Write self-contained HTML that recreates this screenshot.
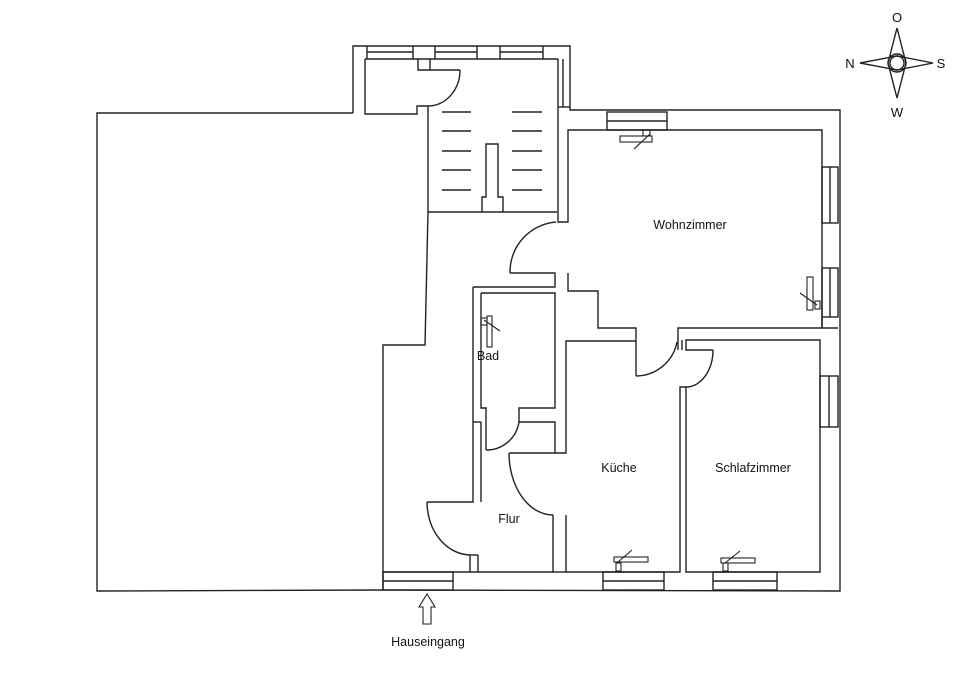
<!DOCTYPE html>
<html><head><meta charset="utf-8"><style>
html,body{margin:0;padding:0;background:#fff;}
svg{display:block}
text{font-family:"Liberation Sans",Arial,sans-serif;fill:#111;}
</style></head><body>
<svg width="960" height="679" viewBox="0 0 960 679" xmlns="http://www.w3.org/2000/svg">
<g fill="none" stroke="#222" stroke-width="1.4">
<!-- big left area -->
<polyline points="353,113 97,113 97,591 383,590"/>
<!-- top stair block outer -->
<polyline points="353,113 353,46 570,46 570,110 840,110 840,591 383,590 383,345 425,345 428,212 428,106"/>
<!-- stair room -->
<polyline points="365,59 558,59"/>
<polyline points="367,52 413,52"/><polyline points="435,52 477,52"/><polyline points="500,52 543,52"/>
<line x1="413" y1="46" x2="413" y2="59"/><line x1="435" y1="46" x2="435" y2="59"/>
<line x1="367" y1="46" x2="367" y2="59"/><line x1="477" y1="46" x2="477" y2="59"/>
<line x1="500" y1="46" x2="500" y2="59"/><line x1="543" y1="46" x2="543" y2="59"/>
<polyline points="365,59 365,114 417,114 417,106 428,106"/>
<polyline points="418,59 418,70 460,70"/>
<line x1="430" y1="59" x2="430" y2="70"/>
<path d="M460,70 A32,36 0 0 1 428,106"/>
<polyline points="558,59 558,222 568,222 568,130 607,130"/>
<line x1="563" y1="59" x2="563" y2="107"/><line x1="558" y1="107" x2="570" y2="107"/>
<line x1="428" y1="212" x2="557" y2="212"/>
<!-- treads -->
<g>
<line x1="442" y1="112" x2="471" y2="112"/><line x1="442" y1="131" x2="471" y2="131"/><line x1="442" y1="151" x2="471" y2="151"/><line x1="442" y1="170" x2="471" y2="170"/><line x1="442" y1="190" x2="471" y2="190"/>
<line x1="512" y1="112" x2="542" y2="112"/><line x1="512" y1="131" x2="542" y2="131"/><line x1="512" y1="151" x2="542" y2="151"/><line x1="512" y1="170" x2="542" y2="170"/><line x1="512" y1="190" x2="542" y2="190"/>
</g>
<polyline points="482,212 482,197 486,197 486,144 498,144 498,197 503,197 503,212"/>
<!-- wohnzimmer -->
<polyline points="607,130 822,130 822,327"/>
<rect x="607" y="112" width="60" height="18"/><line x1="607" y1="121" x2="667" y2="121"/>
<rect x="822" y="167" width="16" height="56"/><line x1="830" y1="167" x2="830" y2="223"/>
<rect x="822" y="268" width="16" height="49"/><line x1="830" y1="268" x2="830" y2="317"/>
<line x1="822" y1="317" x2="822" y2="328"/>
<path d="M556,222 A50,50 0 0 0 510,273"/>
<polyline points="510,273 555,273 555,287 473,287"/>
<polyline points="568,273 568,291 598,291 598,328 636,328 636,376"/>
<path d="M636,376 A42,42 0 0 0 677,342"/>
<polyline points="678,350 678,328 838,328"/>
<line x1="682" y1="340" x2="682" y2="350"/>
<!-- bad -->
<polyline points="473,287 473,502 427,502"/>
<polyline points="481,422 481,502"/>
<line x1="473" y1="422" x2="481" y2="422"/>
<polyline points="481,293 555,293 555,408 519,408 519,422 555,422 555,453"/>
<polyline points="481,293 481,408 486,408 486,450"/>
<path d="M486,450 A33,33 0 0 0 519,422"/>
<!-- flur -->
<path d="M427,502 A44,53 0 0 0 470,555"/>
<polyline points="470,555 470,572 553,572 553,515"/>
<line x1="478" y1="555" x2="478" y2="572"/><line x1="470" y1="555" x2="478" y2="555"/>
<path d="M553,515 A44,62 0 0 1 509,453"/>
<polyline points="509,453 566,453 566,341 636,341"/>
<!-- kitchen -->
<polyline points="566,515 566,572 680,572 680,387 686,387"/>
<path d="M686,387 A27,37 0 0 0 713,350"/>
<polyline points="713,350 686,350 686,340 820,340 820,572 686,572 686,387"/>
<rect x="820" y="376" width="18" height="51"/><line x1="829" y1="376" x2="829" y2="427"/>
<!-- bottom windows -->
<rect x="383" y="572" width="70" height="18"/><line x1="383" y1="581" x2="453" y2="581"/>
<rect x="603" y="572" width="61" height="18"/><line x1="603" y1="581" x2="664" y2="581"/>
<rect x="713" y="572" width="64" height="18"/><line x1="713" y1="581" x2="777" y2="581"/>
<line x1="383" y1="572" x2="470" y2="572"/><line x1="553" y1="572" x2="566" y2="572"/>
<!-- radiators -->
<g stroke-width="1.1">
<rect x="620" y="136" width="32" height="6"/><rect x="643" y="130" width="7" height="6"/><line x1="634" y1="149" x2="650" y2="134"/>
<rect x="807" y="277" width="6" height="33"/><rect x="815" y="301" width="5" height="8"/><line x1="800" y1="293" x2="817" y2="305"/>
<rect x="487" y="316" width="5" height="31"/><rect x="481" y="318" width="6" height="7"/><line x1="484" y1="320" x2="500" y2="331"/>
<rect x="614" y="557" width="34" height="5"/><rect x="616" y="563" width="5" height="8"/><line x1="632" y1="550" x2="618" y2="562"/>
<rect x="721" y="558" width="34" height="5"/><rect x="723" y="563" width="5" height="8"/><line x1="740" y1="551" x2="725" y2="563"/>
</g>
<!-- arrow -->
<polygon points="427,594 435,607 431,607 431,624 423,624 423,607 419,607" stroke-width="1.1"/>
<!-- compass -->
<polygon points="897,28 906,63 897,98 888,63"/>
<polygon points="860,63 897,56 933,63 897,70"/>
<circle cx="897" cy="63" r="9"/>
<circle cx="897" cy="63" r="7"/>
</g>
<g font-size="12.5" text-anchor="middle">
<text x="690" y="229">Wohnzimmer</text>
<text x="488" y="360">Bad</text>
<text x="619" y="472">Küche</text>
<text x="753" y="472">Schlafzimmer</text>
<text x="509" y="523">Flur</text>
<text x="428" y="646">Hauseingang</text>
<text x="897" y="22" font-size="13">O</text>
<text x="897" y="117" font-size="13">W</text>
<text x="850" y="68" font-size="13">N</text>
<text x="941" y="68" font-size="13">S</text>
</g>
</svg>
</body></html>
